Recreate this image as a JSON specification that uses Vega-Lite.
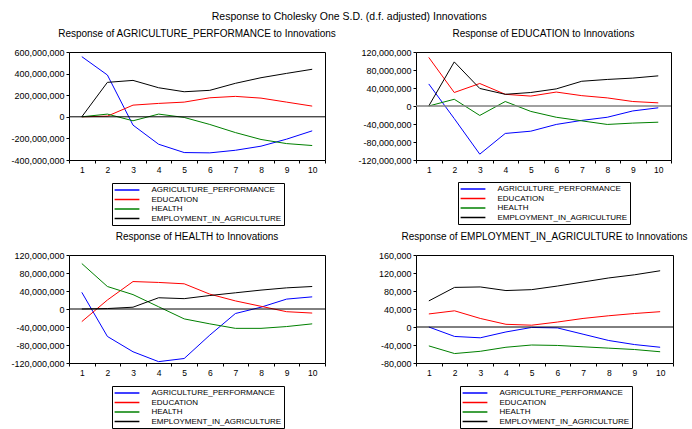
{
  "$schema": "https://vega.github.io/schema/vega-lite/v6.json",
  "padding": {"left": 10, "top": 12, "right": 0, "bottom": 0},
  "background": "white",
  "title": {"text": "Response to Cholesky One S.D. (d.f. adjusted) Innovations", "anchor": "middle", "fontSize": 10.5, "font": "Liberation Sans", "fontWeight": "normal", "offset": 6},
  "config": {
    "locale": {"number": {"decimal": ".", "thousands": ",", "grouping": [3], "currency": ["$", ""], "minus": "-"}},
    "view": {"stroke": "black", "strokeWidth": 1},
    "font": "Liberation Sans",
    "title": {"font": "Liberation Sans", "fontSize": 10, "fontWeight": "normal", "offset": 9, "color": "black"},
    "axis": {"domain": false, "grid": false, "title": null, "tickSize": 3, "tickColor": "black", "labelFont": "Liberation Sans", "labelFontSize": 9, "labelColor": "black", "labelPadding": 2, "labelOverlap": false},
    "axisX": {"labelFontSize": 8.5},
    "legend": {"title": null, "orient": "none", "direction": "vertical", "strokeColor": "black", "fillColor": "white", "padding": 2, "symbolType": "M-3.1,0H3.1", "symbolSize": 64, "symbolStrokeWidth": 1.5, "symbolOffset": 8, "rowPadding": 0.5, "labelOffset": 19.5, "labelFont": "Liberation Sans", "labelFontSize": 8, "labelColor": "black"}
  },
  "datasets": {
    "irf": [
      {"p":"AGR","s":"AGRICULTURE_PERFORMANCE","t":1,"v":557000000},{"p":"AGR","s":"AGRICULTURE_PERFORMANCE","t":2,"v":387000000},{"p":"AGR","s":"AGRICULTURE_PERFORMANCE","t":3,"v":-77000000},{"p":"AGR","s":"AGRICULTURE_PERFORMANCE","t":4,"v":-254000000},{"p":"AGR","s":"AGRICULTURE_PERFORMANCE","t":5,"v":-331000000},{"p":"AGR","s":"AGRICULTURE_PERFORMANCE","t":6,"v":-334000000},{"p":"AGR","s":"AGRICULTURE_PERFORMANCE","t":7,"v":-310000000},{"p":"AGR","s":"AGRICULTURE_PERFORMANCE","t":8,"v":-272000000},{"p":"AGR","s":"AGRICULTURE_PERFORMANCE","t":9,"v":-207000000},{"p":"AGR","s":"AGRICULTURE_PERFORMANCE","t":10,"v":-130000000},
      {"p":"AGR","s":"EDUCATION","t":1,"v":0},{"p":"AGR","s":"EDUCATION","t":2,"v":6000000},{"p":"AGR","s":"EDUCATION","t":3,"v":108000000},{"p":"AGR","s":"EDUCATION","t":4,"v":124000000},{"p":"AGR","s":"EDUCATION","t":5,"v":136000000},{"p":"AGR","s":"EDUCATION","t":6,"v":176000000},{"p":"AGR","s":"EDUCATION","t":7,"v":189000000},{"p":"AGR","s":"EDUCATION","t":8,"v":173000000},{"p":"AGR","s":"EDUCATION","t":9,"v":136000000},{"p":"AGR","s":"EDUCATION","t":10,"v":99000000},
      {"p":"AGR","s":"HEALTH","t":1,"v":0},{"p":"AGR","s":"HEALTH","t":2,"v":25000000},{"p":"AGR","s":"HEALTH","t":3,"v":-37000000},{"p":"AGR","s":"HEALTH","t":4,"v":25000000},{"p":"AGR","s":"HEALTH","t":5,"v":-6000000},{"p":"AGR","s":"HEALTH","t":6,"v":-71000000},{"p":"AGR","s":"HEALTH","t":7,"v":-146000000},{"p":"AGR","s":"HEALTH","t":8,"v":-210000000},{"p":"AGR","s":"HEALTH","t":9,"v":-248000000},{"p":"AGR","s":"HEALTH","t":10,"v":-266000000},
      {"p":"AGR","s":"EMPLOYMENT_IN_AGRICULTURE","t":1,"v":0},{"p":"AGR","s":"EMPLOYMENT_IN_AGRICULTURE","t":2,"v":319000000},{"p":"AGR","s":"EMPLOYMENT_IN_AGRICULTURE","t":3,"v":337000000},{"p":"AGR","s":"EMPLOYMENT_IN_AGRICULTURE","t":4,"v":269000000},{"p":"AGR","s":"EMPLOYMENT_IN_AGRICULTURE","t":5,"v":232000000},{"p":"AGR","s":"EMPLOYMENT_IN_AGRICULTURE","t":6,"v":245000000},{"p":"AGR","s":"EMPLOYMENT_IN_AGRICULTURE","t":7,"v":310000000},{"p":"AGR","s":"EMPLOYMENT_IN_AGRICULTURE","t":8,"v":362000000},{"p":"AGR","s":"EMPLOYMENT_IN_AGRICULTURE","t":9,"v":402000000},{"p":"AGR","s":"EMPLOYMENT_IN_AGRICULTURE","t":10,"v":440000000},

      {"p":"EDU","s":"AGRICULTURE_PERFORMANCE","t":1,"v":49000000},{"p":"EDU","s":"AGRICULTURE_PERFORMANCE","t":2,"v":-28000000},{"p":"EDU","s":"AGRICULTURE_PERFORMANCE","t":3,"v":-107000000},{"p":"EDU","s":"AGRICULTURE_PERFORMANCE","t":4,"v":-61000000},{"p":"EDU","s":"AGRICULTURE_PERFORMANCE","t":5,"v":-56000000},{"p":"EDU","s":"AGRICULTURE_PERFORMANCE","t":6,"v":-41000000},{"p":"EDU","s":"AGRICULTURE_PERFORMANCE","t":7,"v":-32000000},{"p":"EDU","s":"AGRICULTURE_PERFORMANCE","t":8,"v":-25000000},{"p":"EDU","s":"AGRICULTURE_PERFORMANCE","t":9,"v":-11000000},{"p":"EDU","s":"AGRICULTURE_PERFORMANCE","t":10,"v":-4000000},
      {"p":"EDU","s":"EDUCATION","t":1,"v":108000000},{"p":"EDU","s":"EDUCATION","t":2,"v":30000000},{"p":"EDU","s":"EDUCATION","t":3,"v":50000000},{"p":"EDU","s":"EDUCATION","t":4,"v":26000000},{"p":"EDU","s":"EDUCATION","t":5,"v":22000000},{"p":"EDU","s":"EDUCATION","t":6,"v":31000000},{"p":"EDU","s":"EDUCATION","t":7,"v":23000000},{"p":"EDU","s":"EDUCATION","t":8,"v":18000000},{"p":"EDU","s":"EDUCATION","t":9,"v":10000000},{"p":"EDU","s":"EDUCATION","t":10,"v":7000000},
      {"p":"EDU","s":"HEALTH","t":1,"v":0},{"p":"EDU","s":"HEALTH","t":2,"v":15000000},{"p":"EDU","s":"HEALTH","t":3,"v":-21000000},{"p":"EDU","s":"HEALTH","t":4,"v":10000000},{"p":"EDU","s":"HEALTH","t":5,"v":-12000000},{"p":"EDU","s":"HEALTH","t":6,"v":-25000000},{"p":"EDU","s":"HEALTH","t":7,"v":-33000000},{"p":"EDU","s":"HEALTH","t":8,"v":-41000000},{"p":"EDU","s":"HEALTH","t":9,"v":-38000000},{"p":"EDU","s":"HEALTH","t":10,"v":-36000000},
      {"p":"EDU","s":"EMPLOYMENT_IN_AGRICULTURE","t":1,"v":0},{"p":"EDU","s":"EMPLOYMENT_IN_AGRICULTURE","t":2,"v":98000000},{"p":"EDU","s":"EMPLOYMENT_IN_AGRICULTURE","t":3,"v":39000000},{"p":"EDU","s":"EMPLOYMENT_IN_AGRICULTURE","t":4,"v":26000000},{"p":"EDU","s":"EMPLOYMENT_IN_AGRICULTURE","t":5,"v":30000000},{"p":"EDU","s":"EMPLOYMENT_IN_AGRICULTURE","t":6,"v":38000000},{"p":"EDU","s":"EMPLOYMENT_IN_AGRICULTURE","t":7,"v":55000000},{"p":"EDU","s":"EMPLOYMENT_IN_AGRICULTURE","t":8,"v":59000000},{"p":"EDU","s":"EMPLOYMENT_IN_AGRICULTURE","t":9,"v":62000000},{"p":"EDU","s":"EMPLOYMENT_IN_AGRICULTURE","t":10,"v":67000000},

      {"p":"HEA","s":"AGRICULTURE_PERFORMANCE","t":1,"v":37000000},{"p":"HEA","s":"AGRICULTURE_PERFORMANCE","t":2,"v":-61000000},{"p":"HEA","s":"AGRICULTURE_PERFORMANCE","t":3,"v":-95000000},{"p":"HEA","s":"AGRICULTURE_PERFORMANCE","t":4,"v":-117000000},{"p":"HEA","s":"AGRICULTURE_PERFORMANCE","t":5,"v":-110000000},{"p":"HEA","s":"AGRICULTURE_PERFORMANCE","t":6,"v":-58000000},{"p":"HEA","s":"AGRICULTURE_PERFORMANCE","t":7,"v":-10000000},{"p":"HEA","s":"AGRICULTURE_PERFORMANCE","t":8,"v":4000000},{"p":"HEA","s":"AGRICULTURE_PERFORMANCE","t":9,"v":22000000},{"p":"HEA","s":"AGRICULTURE_PERFORMANCE","t":10,"v":27000000},
      {"p":"HEA","s":"EDUCATION","t":1,"v":-28000000},{"p":"HEA","s":"EDUCATION","t":2,"v":20000000},{"p":"HEA","s":"EDUCATION","t":3,"v":61000000},{"p":"HEA","s":"EDUCATION","t":4,"v":59000000},{"p":"HEA","s":"EDUCATION","t":5,"v":56000000},{"p":"HEA","s":"EDUCATION","t":6,"v":33000000},{"p":"HEA","s":"EDUCATION","t":7,"v":18000000},{"p":"HEA","s":"EDUCATION","t":8,"v":6000000},{"p":"HEA","s":"EDUCATION","t":9,"v":-6000000},{"p":"HEA","s":"EDUCATION","t":10,"v":-9000000},
      {"p":"HEA","s":"HEALTH","t":1,"v":101000000},{"p":"HEA","s":"HEALTH","t":2,"v":50000000},{"p":"HEA","s":"HEALTH","t":3,"v":32000000},{"p":"HEA","s":"HEALTH","t":4,"v":5000000},{"p":"HEA","s":"HEALTH","t":5,"v":-22000000},{"p":"HEA","s":"HEALTH","t":6,"v":-33000000},{"p":"HEA","s":"HEALTH","t":7,"v":-43000000},{"p":"HEA","s":"HEALTH","t":8,"v":-43000000},{"p":"HEA","s":"HEALTH","t":9,"v":-39000000},{"p":"HEA","s":"HEALTH","t":10,"v":-33000000},
      {"p":"HEA","s":"EMPLOYMENT_IN_AGRICULTURE","t":1,"v":0},{"p":"HEA","s":"EMPLOYMENT_IN_AGRICULTURE","t":2,"v":1000000},{"p":"HEA","s":"EMPLOYMENT_IN_AGRICULTURE","t":3,"v":4000000},{"p":"HEA","s":"EMPLOYMENT_IN_AGRICULTURE","t":4,"v":25000000},{"p":"HEA","s":"EMPLOYMENT_IN_AGRICULTURE","t":5,"v":23000000},{"p":"HEA","s":"EMPLOYMENT_IN_AGRICULTURE","t":6,"v":30000000},{"p":"HEA","s":"EMPLOYMENT_IN_AGRICULTURE","t":7,"v":36000000},{"p":"HEA","s":"EMPLOYMENT_IN_AGRICULTURE","t":8,"v":42000000},{"p":"HEA","s":"EMPLOYMENT_IN_AGRICULTURE","t":9,"v":47000000},{"p":"HEA","s":"EMPLOYMENT_IN_AGRICULTURE","t":10,"v":50000000},

      {"p":"EMP","s":"AGRICULTURE_PERFORMANCE","t":1,"v":0},{"p":"EMP","s":"AGRICULTURE_PERFORMANCE","t":2,"v":-21000},{"p":"EMP","s":"AGRICULTURE_PERFORMANCE","t":3,"v":-24000},{"p":"EMP","s":"AGRICULTURE_PERFORMANCE","t":4,"v":-11000},{"p":"EMP","s":"AGRICULTURE_PERFORMANCE","t":5,"v":-1000},{"p":"EMP","s":"AGRICULTURE_PERFORMANCE","t":6,"v":-2000},{"p":"EMP","s":"AGRICULTURE_PERFORMANCE","t":7,"v":-16000},{"p":"EMP","s":"AGRICULTURE_PERFORMANCE","t":8,"v":-30000},{"p":"EMP","s":"AGRICULTURE_PERFORMANCE","t":9,"v":-39000},{"p":"EMP","s":"AGRICULTURE_PERFORMANCE","t":10,"v":-45000},
      {"p":"EMP","s":"EDUCATION","t":1,"v":29000},{"p":"EMP","s":"EDUCATION","t":2,"v":36000},{"p":"EMP","s":"EDUCATION","t":3,"v":19000},{"p":"EMP","s":"EDUCATION","t":4,"v":6000},{"p":"EMP","s":"EDUCATION","t":5,"v":4000},{"p":"EMP","s":"EDUCATION","t":6,"v":11000},{"p":"EMP","s":"EDUCATION","t":7,"v":19000},{"p":"EMP","s":"EDUCATION","t":8,"v":25000},{"p":"EMP","s":"EDUCATION","t":9,"v":30000},{"p":"EMP","s":"EDUCATION","t":10,"v":34000},
      {"p":"EMP","s":"HEALTH","t":1,"v":-42000},{"p":"EMP","s":"HEALTH","t":2,"v":-59000},{"p":"EMP","s":"HEALTH","t":3,"v":-54000},{"p":"EMP","s":"HEALTH","t":4,"v":-45000},{"p":"EMP","s":"HEALTH","t":5,"v":-40000},{"p":"EMP","s":"HEALTH","t":6,"v":-41000},{"p":"EMP","s":"HEALTH","t":7,"v":-44000},{"p":"EMP","s":"HEALTH","t":8,"v":-47000},{"p":"EMP","s":"HEALTH","t":9,"v":-50000},{"p":"EMP","s":"HEALTH","t":10,"v":-55000},
      {"p":"EMP","s":"EMPLOYMENT_IN_AGRICULTURE","t":1,"v":58000},{"p":"EMP","s":"EMPLOYMENT_IN_AGRICULTURE","t":2,"v":88000},{"p":"EMP","s":"EMPLOYMENT_IN_AGRICULTURE","t":3,"v":89000},{"p":"EMP","s":"EMPLOYMENT_IN_AGRICULTURE","t":4,"v":81000},{"p":"EMP","s":"EMPLOYMENT_IN_AGRICULTURE","t":5,"v":83000},{"p":"EMP","s":"EMPLOYMENT_IN_AGRICULTURE","t":6,"v":91000},{"p":"EMP","s":"EMPLOYMENT_IN_AGRICULTURE","t":7,"v":100000},{"p":"EMP","s":"EMPLOYMENT_IN_AGRICULTURE","t":8,"v":109000},{"p":"EMP","s":"EMPLOYMENT_IN_AGRICULTURE","t":9,"v":116000},{"p":"EMP","s":"EMPLOYMENT_IN_AGRICULTURE","t":10,"v":125000}
    ]
  },
  "columns": 2,
  "spacing": {"row": 5, "column": 20},
  "resolve": {"legend": {"color": "independent"}},
  "concat": [
    {
      "width": 256, "height": 108,
      "title": "Response of AGRICULTURE_PERFORMANCE to Innovations",
      "layer": [
        {"data": {"name": "irf"}, "transform": [{"filter": "datum.p == 'AGR'"}],
         "mark": {"type": "line", "strokeWidth": 1},
         "encoding": {
          "x": {"field": "t", "type": "ordinal", "bandPosition": 0.5, "scale": {"type": "band", "paddingInner": 0, "paddingOuter": 0}, "axis": {"tickBand": "extent", "labelAngle": 0}},
          "y": {"field": "v", "type": "quantitative", "scale": {"domain": [-400000000, 600000000], "nice": false, "zero": false}, "axis": {"values": [-400000000, -200000000, 0, 200000000, 400000000, 600000000], "format": ",d"}},
          "color": {"field": "s", "type": "nominal", "scale": {"domain": ["AGRICULTURE_PERFORMANCE", "EDUCATION", "HEALTH", "EMPLOYMENT_IN_AGRICULTURE"], "range": ["#0000ff", "#ff0000", "#008000", "#000000"]},
            "legend": {"legendX": 43, "legendY": 131}}
         }},
        {"data": {"values": [{}]}, "mark": {"type": "rule", "color": "black", "strokeWidth": 1}, "encoding": {"y": {"datum": 0, "type": "quantitative", "axis": {"values": [-400000000, -200000000, 0, 200000000, 400000000, 600000000], "format": ",d"}}}}
      ]
    },
    {
      "width": 255, "height": 108,
      "title": "Response of EDUCATION to Innovations",
      "layer": [
        {"data": {"name": "irf"}, "transform": [{"filter": "datum.p == 'EDU'"}],
         "mark": {"type": "line", "strokeWidth": 1},
         "encoding": {
          "x": {"field": "t", "type": "ordinal", "bandPosition": 0.5, "scale": {"type": "band", "paddingInner": 0, "paddingOuter": 0}, "axis": {"tickBand": "extent", "labelAngle": 0}},
          "y": {"field": "v", "type": "quantitative", "scale": {"domain": [-120000000, 120000000], "nice": false, "zero": false}, "axis": {"values": [-120000000, -80000000, -40000000, 0, 40000000, 80000000, 120000000], "format": ",d"}},
          "color": {"field": "s", "type": "nominal", "scale": {"domain": ["AGRICULTURE_PERFORMANCE", "EDUCATION", "HEALTH", "EMPLOYMENT_IN_AGRICULTURE"], "range": ["#0000ff", "#ff0000", "#008000", "#000000"]},
            "legend": {"legendX": 42, "legendY": 130}}
         }},
        {"data": {"values": [{}]}, "mark": {"type": "rule", "color": "#808080", "strokeWidth": 1.5}, "encoding": {"y": {"datum": 0, "type": "quantitative", "axis": {"values": [-120000000, -80000000, -40000000, 0, 40000000, 80000000, 120000000], "format": ",d"}}}}
      ]
    },
    {
      "width": 256, "height": 108,
      "title": "Response of HEALTH to Innovations",
      "layer": [
        {"data": {"name": "irf"}, "transform": [{"filter": "datum.p == 'HEA'"}],
         "mark": {"type": "line", "strokeWidth": 1},
         "encoding": {
          "x": {"field": "t", "type": "ordinal", "bandPosition": 0.5, "scale": {"type": "band", "paddingInner": 0, "paddingOuter": 0}, "axis": {"tickBand": "extent", "labelAngle": 0}},
          "y": {"field": "v", "type": "quantitative", "scale": {"domain": [-120000000, 120000000], "nice": false, "zero": false}, "axis": {"values": [-120000000, -80000000, -40000000, 0, 40000000, 80000000, 120000000], "format": ",d"}},
          "color": {"field": "s", "type": "nominal", "scale": {"domain": ["AGRICULTURE_PERFORMANCE", "EDUCATION", "HEALTH", "EMPLOYMENT_IN_AGRICULTURE"], "range": ["#0000ff", "#ff0000", "#008000", "#000000"]},
            "legend": {"legendX": 43, "legendY": 131}}
         }},
        {"data": {"values": [{}]}, "mark": {"type": "rule", "color": "black", "strokeWidth": 1}, "encoding": {"y": {"datum": 0, "type": "quantitative", "axis": {"values": [-120000000, -80000000, -40000000, 0, 40000000, 80000000, 120000000], "format": ",d"}}}}
      ]
    },
    {
      "width": 257, "height": 108,
      "title": "Response of EMPLOYMENT_IN_AGRICULTURE to Innovations",
      "layer": [
        {"data": {"name": "irf"}, "transform": [{"filter": "datum.p == 'EMP'"}],
         "mark": {"type": "line", "strokeWidth": 1},
         "encoding": {
          "x": {"field": "t", "type": "ordinal", "bandPosition": 0.5, "scale": {"type": "band", "paddingInner": 0, "paddingOuter": 0}, "axis": {"tickBand": "extent", "labelAngle": 0}},
          "y": {"field": "v", "type": "quantitative", "scale": {"domain": [-80000, 160000], "nice": false, "zero": false}, "axis": {"values": [-80000, -40000, 0, 40000, 80000, 120000, 160000], "format": ",d"}},
          "color": {"field": "s", "type": "nominal", "scale": {"domain": ["AGRICULTURE_PERFORMANCE", "EDUCATION", "HEALTH", "EMPLOYMENT_IN_AGRICULTURE"], "range": ["#0000ff", "#ff0000", "#008000", "#000000"]},
            "legend": {"legendX": 44, "legendY": 131}}
         }},
        {"data": {"values": [{}]}, "mark": {"type": "rule", "color": "black", "strokeWidth": 1}, "encoding": {"y": {"datum": 0, "type": "quantitative", "axis": {"values": [-80000, -40000, 0, 40000, 80000, 120000, 160000], "format": ",d"}}}}
      ]
    }
  ]
}
